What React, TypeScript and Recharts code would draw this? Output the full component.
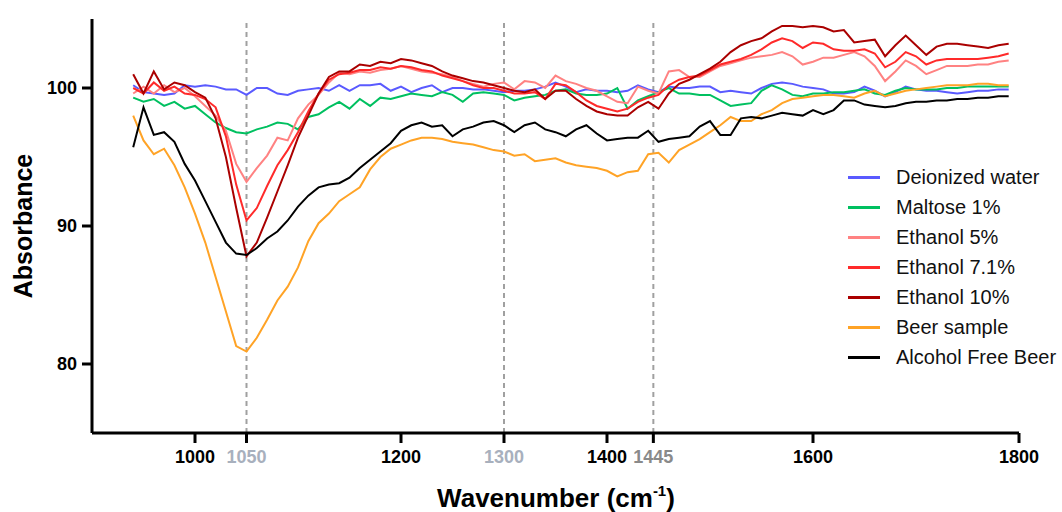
import React from "react"
import { LineChart, Line, XAxis, YAxis, ReferenceLine, Label } from "recharts"

const wavenumbers = [
  940, 950, 960, 970, 980, 990, 1000, 1010, 1020, 1030,
  1040, 1050, 1060, 1070, 1080, 1090, 1100, 1110, 1120, 1130,
  1140, 1150, 1160, 1170, 1180, 1190, 1200, 1210, 1220, 1230,
  1240, 1250, 1260, 1270, 1280, 1290, 1300, 1310, 1320, 1330,
  1340, 1350, 1360, 1370, 1380, 1390, 1400, 1410, 1420, 1430,
  1440, 1450, 1460, 1470, 1480, 1490, 1500, 1510, 1520, 1530,
  1540, 1550, 1560, 1570, 1580, 1590, 1600, 1610, 1620, 1630,
  1640, 1650, 1660, 1670, 1680, 1690, 1700, 1710, 1720, 1730,
  1740, 1750, 1760, 1770, 1780, 1790,
]

const deionizedWater = [
  100.2, 99.7, 99.6, 99.5, 99.6, 100.2, 100.1, 100.2, 100.1, 99.9,
  99.9, 99.5, 100.0, 100.0, 99.6, 99.5, 99.8, 99.9, 100.0, 99.8,
  100.2, 99.8, 100.2, 100.2, 100.3, 99.8, 100.1, 99.7, 100.0, 100.2,
  99.7, 100.0, 100.0, 99.9, 99.9, 99.8, 99.7, 99.8, 99.8, 99.9,
  100.1, 100.4, 100.1, 99.7, 99.9, 99.8, 99.8, 99.7, 99.8, 100.2,
  99.9, 99.7, 100.1, 100.0, 100.0, 100.1, 100.1, 99.7, 99.8, 99.7,
  99.6, 100.0, 100.3, 100.4, 100.3, 100.1, 100.0, 99.9, 99.6, 99.6,
  99.7, 100.1, 99.8, 99.4, 99.7, 100.1, 99.9, 99.8, 99.8, 99.7,
  99.6, 99.7, 99.8, 99.8, 99.9, 99.9,
]

const maltose1 = [
  99.3, 99.0, 99.2, 98.7, 99.0, 98.5, 98.7, 98.1, 97.5, 97.1,
  96.8, 96.7, 97.0, 97.2, 97.5, 97.4, 97.0, 97.9, 98.1, 98.6,
  99.0, 98.5, 99.2, 98.7, 99.3, 99.2, 99.4, 99.6, 99.5, 99.4,
  99.7, 99.5, 99.0, 99.6, 99.7, 99.6, 99.5, 99.1, 99.3, 99.4,
  99.5, 99.8, 99.9, 99.6, 99.5, 99.5, 99.6, 100.0, 98.5, 99.1,
  99.4, 99.7, 100.0, 99.6, 99.6, 99.5, 99.5, 99.1, 98.7, 98.8,
  98.9, 99.8, 100.2, 99.9, 99.5, 99.4, 99.6, 99.6, 99.7, 99.7,
  99.8, 99.9, 99.6, 99.5, 99.8, 100.0, 99.9, 99.9, 99.9, 100.0,
  100.0, 100.1, 100.1, 100.1, 100.1, 100.1,
]

const ethanol5 = [
  99.6, 100.1, 99.6, 100.2, 99.7, 100.0, 99.4, 98.7, 98.0, 96.9,
  94.5, 93.2, 94.2, 95.1, 96.4, 96.2, 97.8, 98.8, 99.5, 100.4,
  101.1, 101.0, 101.2, 101.1, 101.3, 101.4, 101.6, 101.4, 101.2, 101.1,
  101.0, 100.8, 100.5, 100.3, 100.1, 100.3, 100.4, 99.9, 100.5, 100.4,
  100.0, 100.9, 100.5, 100.3, 100.0, 99.8, 99.4, 99.0, 98.9, 100.1,
  99.8, 99.6, 101.2, 101.3, 100.8, 100.8, 101.2, 101.6, 101.8, 102.0,
  102.2, 102.3, 102.4, 102.6, 102.3, 101.7, 101.9, 102.2, 102.2, 102.4,
  102.6, 102.3, 101.6, 100.5, 101.2, 102.0, 101.6, 101.0, 101.3, 101.6,
  101.6, 101.6, 101.7, 101.7, 101.9, 102.0,
]

const ethanol71 = [
  100.0, 99.6, 100.4, 99.8, 100.1, 99.6, 99.5, 99.2, 98.6, 96.5,
  93.0, 90.4, 91.3, 92.9, 94.4, 95.5, 96.8, 98.3, 99.6, 100.6,
  101.0, 101.1, 101.3, 101.3, 101.5, 101.4, 101.6, 101.5, 101.3, 101.2,
  100.9, 100.7, 100.5, 100.2, 100.0, 100.0, 99.8, 99.6, 99.6, 99.7,
  99.2, 100.3, 100.2, 99.7, 99.1, 98.7, 98.5, 98.3, 98.5, 99.0,
  99.3, 99.5, 100.2, 100.6, 100.8, 100.9, 101.3, 101.7, 101.9, 102.1,
  102.4, 102.8, 103.3, 103.6, 103.4, 102.9, 103.3, 103.2, 102.8, 102.7,
  102.7, 102.8, 102.5, 101.5, 101.9, 102.6, 102.3, 101.7, 102.0, 102.1,
  102.1, 102.1, 102.1, 102.2, 102.3, 102.5,
]

const ethanol10 = [
  101.0, 99.6, 101.2, 99.9, 100.4, 100.2, 99.7, 99.3, 97.8, 95.0,
  91.3, 87.8, 88.8, 90.6, 92.5, 94.4, 96.4, 98.0, 99.6, 100.8,
  101.2, 101.2, 101.7, 101.6, 101.9, 101.8, 102.1, 102.0, 101.8, 101.6,
  101.2, 100.9, 100.7, 100.5, 100.4, 100.2, 100.0, 99.8, 99.7, 99.9,
  99.2, 99.8, 99.8, 99.2, 98.7, 98.3, 98.1, 98.0, 98.0, 98.6,
  99.0, 98.5, 99.6, 100.3, 100.6, 101.0, 101.4, 101.9, 102.6, 103.1,
  103.4, 103.6, 104.1, 104.5, 104.5, 104.4, 104.5, 104.4, 104.1, 104.2,
  103.3, 103.4, 103.5, 102.3, 103.1, 103.8, 103.1, 102.4, 103.0, 103.2,
  103.2, 103.1, 103.0, 102.9, 103.1, 103.2,
]

const beerSample = [
  98.0, 96.2, 95.2, 95.6, 94.4, 92.8, 90.9, 88.8, 86.3, 83.8,
  81.3, 80.9, 81.9, 83.2, 84.6, 85.6, 87.0, 88.9, 90.2, 90.9,
  91.8, 92.3, 92.8, 94.1, 95.0, 95.6, 95.9, 96.2, 96.4, 96.4,
  96.3, 96.1, 96.0, 95.9, 95.7, 95.5, 95.4, 95.1, 95.2, 94.7,
  94.8, 94.9, 94.6, 94.4, 94.3, 94.2, 94.0, 93.6, 93.9, 94.0,
  95.2, 95.3, 94.6, 95.5, 95.9, 96.3, 96.8, 97.3, 97.9, 97.6,
  97.6, 98.1, 98.4, 98.9, 99.2, 99.3, 99.4, 99.5, 99.5, 99.4,
  99.3, 99.6, 99.8, 99.4, 99.6, 99.8, 99.9, 100.0, 100.1, 100.2,
  100.2, 100.2, 100.3, 100.3, 100.2, 100.2,
]

const alcoholFreeBeer = [
  95.7, 98.6, 96.6, 96.8, 96.1, 94.5, 93.3, 91.8, 90.3, 88.8,
  88.0, 87.9, 88.4, 89.1, 89.6, 90.4, 91.4, 92.2, 92.8, 93.0,
  93.1, 93.5, 94.2, 94.8, 95.4, 96.0, 96.9, 97.3, 97.5, 97.2,
  97.3, 96.5, 97.0, 97.2, 97.5, 97.6, 97.3, 96.8, 97.3, 97.5,
  97.0, 96.8, 96.5, 97.0, 97.3, 96.7, 96.2, 96.3, 96.4, 96.4,
  96.9, 96.1, 96.3, 96.4, 96.5, 97.2, 97.6, 96.6, 96.6, 97.8,
  97.9, 97.8, 98.0, 98.2, 98.1, 98.0, 98.4, 98.1, 98.4, 99.1,
  99.1, 98.8, 98.7, 98.6, 98.7, 98.9, 99.0, 99.0, 99.1, 99.1,
  99.2, 99.2, 99.3, 99.3, 99.4, 99.4,
]

const xTicks = [1000, 1050, 1200, 1300, 1400, 1445, 1600, 1800]
const yTicks = [80, 90, 100]
const markers = [1050, 1300, 1445]

const series = [
  { key: "water", name: "Deionized water", color: "#5a5aff", values: deionizedWater },
  { key: "maltose", name: "Maltose 1%", color: "#00c060", values: maltose1 },
  { key: "eth5", name: "Ethanol 5%", color: "#ff8282", values: ethanol5 },
  { key: "eth71", name: "Ethanol 7.1%", color: "#ff2a2a", values: ethanol71 },
  { key: "eth10", name: "Ethanol 10%", color: "#aa0000", values: ethanol10 },
  { key: "beer", name: "Beer sample", color: "#ffa326", values: beerSample },
  { key: "afb", name: "Alcohol Free Beer", color: "#000000", values: alcoholFreeBeer },
]

const data = wavenumbers.map((w, i) => {
  const row: Record<string, number> = { w }
  series.forEach((s) => (row[s.key] = s.values[i]))
  return row
})

const font = "'Liberation Sans', Arial, Helvetica, sans-serif"

const tickColor = (v: number) => {
  if (v === 1445) return "#8a8a8a"
  if (v === 1050 || v === 1300) return "#a8b0bd"
  return "#000"
}

const XTick = (props: any) => {
  const { x, y, payload } = props
  return (
    <text x={x} y={y} dy="0.71em" textAnchor="middle" fontSize={18} fontWeight="bold" fontFamily={font} fill={tickColor(payload.value)}>
      {payload.value}
    </text>
  )
}

const YTick = (props: any) => {
  const { x, y, payload } = props
  return (
    <text x={x} y={y} dy="0.355em" textAnchor="end" fontSize={18} fontWeight="bold" fontFamily={font} fill="#000">
      {payload.value}
    </text>
  )
}

export default function App() {
  return (
    <div style={{ position: "absolute", left: 0, top: 0, width: 1062, height: 512, background: "#fff" }}>
      <LineChart width={1062} height={512} data={data} margin={{ top: 19, right: 43, bottom: 0, left: 0 }}>
        <XAxis
          dataKey="w"
          type="number"
          domain={[900, 1800]}
          ticks={xTicks}
          interval={0}
          height={79}
          tickSize={10}
          tickMargin={7}
          axisLine={{ stroke: "#000", strokeWidth: 3 }}
          tickLine={{ stroke: "#000", strokeWidth: 3 }}
          tick={<XTick />}
        >
          <Label
            content={() => (
              <text x={556} y={507} textAnchor="middle" fontSize={26} fontWeight="bold" fontFamily={font} fill="#000">
                Wavenumber (cm
                <tspan dy={-11} fontSize={15}>-1</tspan>
                <tspan dy={11}>)</tspan>
              </text>
            )}
          />
        </XAxis>
        <YAxis
          type="number"
          domain={[75, 105]}
          ticks={yTicks}
          interval={0}
          width={92}
          tickSize={10}
          tickMargin={5}
          axisLine={{ stroke: "#000", strokeWidth: 3 }}
          tickLine={{ stroke: "#000", strokeWidth: 3 }}
          tick={<YTick />}
        >
          <Label
            content={() => (
              <text x={23} y={226} transform="rotate(-90 23 226)" textAnchor="middle" dominantBaseline="central" fontSize={25} fontWeight="bold" fontFamily={font} fill="#000">
                Absorbance
              </text>
            )}
          />
        </YAxis>
        {markers.map((m) => (
          <ReferenceLine key={m} x={m} stroke="#a0a0a0" strokeWidth={2} strokeDasharray="5 4" />
        ))}
        {series.map((s) => (
          <Line key={s.key} dataKey={s.key} name={s.name} stroke={s.color} strokeWidth={2} dot={false} isAnimationActive={false} />
        ))}
      </LineChart>
      <div style={{ position: "absolute", left: 848, top: 162, fontFamily: font, fontSize: 20, color: "#111" }}>
        {series.map((s) => (
          <div key={s.key} style={{ height: 30, display: "flex", alignItems: "center", whiteSpace: "nowrap" }}>
            <div style={{ width: 32, height: 3, background: s.color, marginRight: 16 }} />
            <span>{s.name}</span>
          </div>
        ))}
      </div>
    </div>
  )
}
